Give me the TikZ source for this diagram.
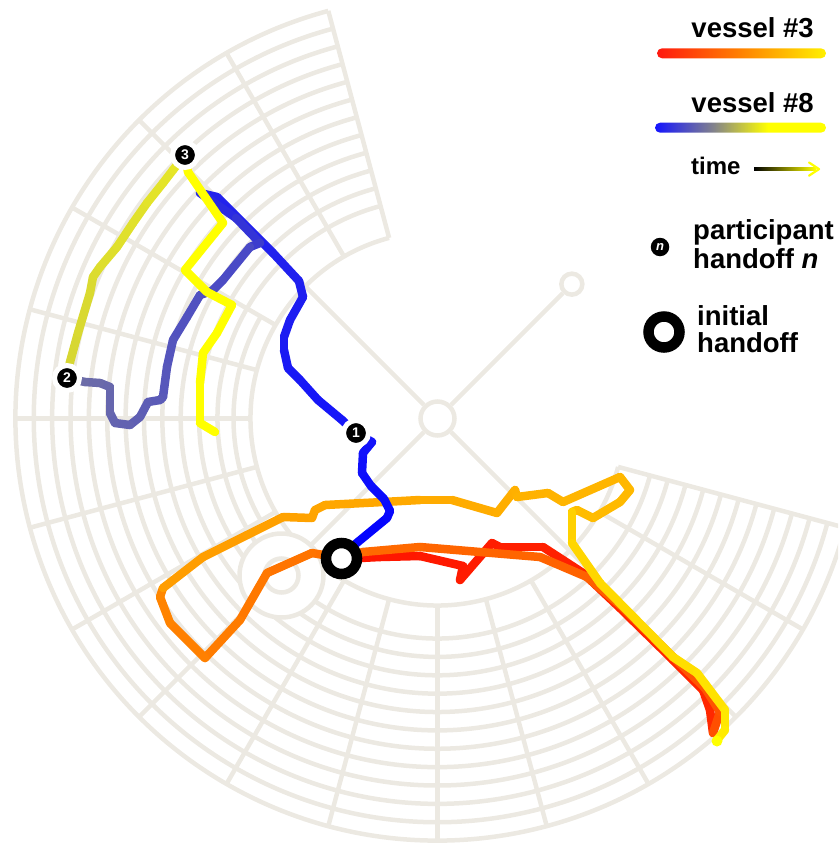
\documentclass[tikz,border=0pt]{standalone}
\usepackage{fontspec}
\setmainfont{Liberation Sans}
\usetikzlibrary{arrows.meta}
\definecolor{gridc}{RGB}{236,233,226}
\definecolor{bA}{RGB}{0,0,255}
\definecolor{bB}{RGB}{20,20,250}
\definecolor{bC}{RGB}{35,35,235}
\definecolor{bD}{RGB}{60,60,205}
\definecolor{sA}{RGB}{72,72,200}
\definecolor{sB}{RGB}{108,108,168}
\definecolor{oA}{RGB}{212,212,52}
\definecolor{oB}{RGB}{230,230,40}
\definecolor{yA}{RGB}{255,255,0}
\definecolor{rA}{RGB}{255,20,0}
\definecolor{rB}{RGB}{255,40,0}
\definecolor{qA}{RGB}{255,75,0}
\definecolor{qB}{RGB}{255,135,0}
\definecolor{aA}{RGB}{255,155,0}
\definecolor{aB}{RGB}{255,190,0}
\definecolor{gA}{RGB}{255,205,0}
\definecolor{gB}{RGB}{255,235,0}
\definecolor{c3a}{RGB}{255,25,15}
\definecolor{c3b}{RGB}{255,130,0}
\definecolor{c3c}{RGB}{255,240,0}
\definecolor{c8a}{RGB}{20,20,255}
\definecolor{c8b}{RGB}{130,130,140}
\definecolor{c8c}{RGB}{255,255,0}
\pgfdeclarehorizontalshading{vthree}{100bp}{color(0bp)=(c3a); color(25bp)=(c3a); color(50bp)=(c3b); color(75bp)=(c3c); color(100bp)=(c3c)}
\pgfdeclarehorizontalshading{veight}{100bp}{color(0bp)=(c8a); color(25bp)=(c8a); color(42bp)=(c8b); color(58bp)=(c8c); color(75bp)=(c8c); color(100bp)=(c8c)}
\tikzset{
  gridline/.style={draw=gridc, line width=4.5pt},
  track/.style={line width=8.5pt, line cap=round, line join=round},
  numnode/.style={circle, fill=black, draw=white, line width=5pt, minimum size=25pt, inner sep=0pt, text=white, font=\bfseries\fontsize{14}{14}\selectfont},
  handoff/.style={circle, draw=black, fill=white, line width=10.5pt, minimum size=31pt, inner sep=0pt},
  legtext/.style={font=\bfseries\fontsize{27.5}{30}\selectfont, inner sep=0pt},
  gridcirc/.style={circle, draw=gridc, fill=white, line width=4.5pt, inner sep=0pt},
}
\newcommand\tracksegs[4]{%
  \foreach \x/\y [count=\i, remember=\x as \px (initially 0), remember=\y as \py (initially 0)] in {#4}{%
    \ifnum\i>1
      \pgfmathtruncatemacro\pct{round(100*(\i-1)/(#3-1))}%
      \draw[track, color=#2!\pct!#1] (\px,\py) -- (\x,\y);
    \fi
  }%
}
\begin{document}
\begin{tikzpicture}[x=1pt,y=-1pt]
\useasboundingbox (0,0) rectangle (838,843);
\clip (0,0) rectangle (838,843);
\coordinate (C) at (437.5,418.5);
% polar grid
\foreach \r in {187,220,238.36,256.73,275.09,293.45,311.82,330.18,348.55,366.91,385.27,403.64,422}
  \draw[gridline] ([shift={(105:\r pt)}]C) arc[start angle=105, end angle=345, radius=\r pt];
\draw[gridline] ([shift={(150:204pt)}]C) arc[start angle=150, end angle=210, radius=204pt];
\foreach \a in {105,120,...,345}
  \draw[gridline] ([shift={(\a:187pt)}]C) -- ([shift={(\a:422pt)}]C);
% hub and crosshair
\node[gridcirc, minimum size=34pt] (hub) at (C) {};
\node[gridcirc, minimum size=21pt] (knob) at ([shift={(45:190pt)}]C) {};
\draw[gridline] (hub) -- (knob);
\foreach \a in {135,225,315}
  \draw[gridline] (hub.\a) -- ([shift={(\a:187pt)}]C);
% target
\coordinate (T) at (281.5,575.5);
\fill[white] (T) circle[radius=42pt];
\draw[gridline] (T) circle[radius=17pt];
\draw[gridline] (T) circle[radius=42pt];
% vessel 3
\tracksegs{rA}{rB}{14}{341/559,380/557,420/556,463/566,460/580,492/543,500/547,543/547,583/573,620/608,673/660,703/690,710/710,713/733}
\tracksegs{qA}{qB}{17}{713/733,720/712,705/688,673/657,620/605,587/577,540/557,420/547,363/552,341/558,312/553,267/573,240/620,205/658,170/623,160/597,163/588}
\tracksegs{aA}{aB}{21}{163/588,203/557,247/535,283/517,312/518,315/510,325/505,383/502,420/500,452/500,497/513,515/490,517/497,548/493,563/502,620/477,630/490,620/502,593/518,577/510,572/512}
\tracksegs{gA}{gB}{8}{572/512,572/543,600/583,673/657,697/673,725/710,725/730,717/740}
\node[circle, fill=yA, minimum size=11pt, inner sep=0pt] (end3) at (717,741) {};
% vessel 8
\tracksegs{bA}{bB}{10}{341/559,353/546,387/518,390/511,384/499,371/486,362/473,363/453,372/442,356/433}
\tracksegs{bB}{bC}{14}{356/433,342/420,318/400,300/380,288/368,284/350,284/337,290/320,303/297,299/281,273/253,233/213,217/197,200/193}
\tracksegs{bC}{bD}{4}{200/193,236/218,260/243,250/247}
\tracksegs{sA}{sB}{18}{250/247,223/280,212/291,200/295,187/317,173/340,167/367,163/397,160/400,148/402,140/417,130/425,115/423,110/413,110/387,100/383,85/382,67/378}
\tracksegs{oA}{oB}{12}{67/378,70/362,78/333,90/293,93/277,100/267,117/247,133/223,147/203,163/183,173/170,185/155}
\tracksegs{yA}{yA}{11}{185/155,188/172,223/223,185/270,207/292,232/305,217/333,203/353,200/383,200/423,215/432}
% handoff markers
\node[numnode] (n1) at (356,433) {1};
\node[numnode] (n2) at (67,378) {2};
\node[numnode] (n3) at (185,155) {3};
\node[handoff] (h0) at (341.5,558.5) {};
% legend
\node[legtext, anchor=base east] (l3) at (814,37.5) {vessel \#3};
\shade[shading=vthree, rounded corners=5pt] (657,48.3) rectangle (826,58.3);
\node[legtext, anchor=base east] (l8) at (814,112) {vessel \#8};
\shade[shading=veight, rounded corners=5pt] (655,122.7) rectangle (826,132.7);
\node[legtext, anchor=base west, font=\bfseries\fontsize{24}{26}\selectfont] (lt) at (691,174) {time};
\shade[left color=black, right color=yA] (754,167.8) rectangle (816,170.4);
\coordinate (tipA) at (809,162.5);
\coordinate (tipB) at (819,169.1);
\coordinate (tipC) at (809,175.7);
\draw[yA, line width=2.2pt, line cap=round, line join=round] (tipA) -- (tipB) -- (tipC);
\node[circle, fill=black, minimum size=18.5pt, inner sep=0pt, text=white, font=\bfseries\itshape\fontsize{13}{13}\selectfont] (ln) at (660,247) {n};
\node[legtext, anchor=base west] (lp1) at (693,239) {participant};
\node[legtext, anchor=base west] (lp2) at (693,268) {handoff \textit{n}};
\node[handoff] (lh) at (664,332) {};
\node[legtext, anchor=base west] (li1) at (697,325) {initial};
\node[legtext, anchor=base west] (li2) at (697,352) {handoff};
\end{tikzpicture}
\end{document}
